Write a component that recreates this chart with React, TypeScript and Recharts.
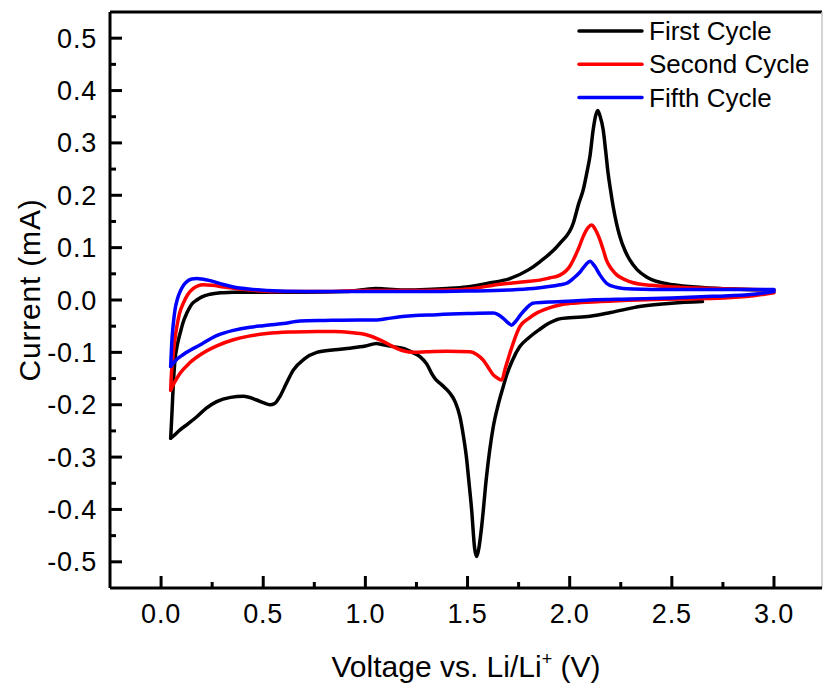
import React from "react";
import { LineChart, Line, XAxis, YAxis, ReferenceLine } from "recharts";

// [voltage (V), current (mA)] pairs, in sweep order
const firstCycle: number[][] = [
  [2.65, -0.003], [2.5, -0.006], [2.35, -0.012], [2.2, -0.024], [2.1, -0.031],
  [2.0, -0.034], [1.95, -0.036], [1.9, -0.044], [1.85, -0.057], [1.8, -0.072],
  [1.756, -0.089], [1.72, -0.115], [1.69, -0.145], [1.675, -0.165], [1.65, -0.2],
  [1.626, -0.242], [1.593, -0.337], [1.569, -0.433], [1.555, -0.475], [1.545, -0.49],
  [1.535, -0.475], [1.52, -0.4], [1.505, -0.34], [1.496, -0.305], [1.48, -0.26],
  [1.463, -0.223], [1.44, -0.195], [1.414, -0.178], [1.39, -0.168], [1.365, -0.159],
  [1.345, -0.152], [1.324, -0.14], [1.3, -0.122], [1.267, -0.108], [1.23, -0.1],
  [1.19, -0.093], [1.137, -0.089], [1.08, -0.085], [1.055, -0.083], [1.0, -0.088],
  [0.925, -0.092], [0.85, -0.095], [0.762, -0.1], [0.7, -0.113], [0.647, -0.134],
  [0.61, -0.162], [0.582, -0.184], [0.555, -0.198], [0.533, -0.2], [0.5, -0.196],
  [0.468, -0.191], [0.403, -0.184], [0.34, -0.186], [0.272, -0.194], [0.22, -0.207],
  [0.175, -0.223], [0.13, -0.237], [0.093, -0.248], [0.065, -0.258], [0.047, -0.264],
  [0.054, -0.21], [0.06, -0.16], [0.068, -0.115], [0.08, -0.085], [0.093, -0.064],
  [0.11, -0.04], [0.126, -0.025], [0.15, -0.008], [0.175, 0.0], [0.2, 0.006],
  [0.24, 0.011], [0.3, 0.014], [0.354, 0.015], [0.5, 0.015], [0.7, 0.015],
  [0.9, 0.016], [1.0, 0.02], [1.05, 0.022], [1.1, 0.021], [1.2, 0.019],
  [1.3, 0.02], [1.4, 0.022], [1.495, 0.025], [1.6, 0.032], [1.707, 0.041],
  [1.8, 0.058], [1.854, 0.073], [1.952, 0.108], [2.017, 0.146], [2.045, 0.185],
  [2.066, 0.21], [2.085, 0.245], [2.099, 0.274], [2.115, 0.325], [2.127, 0.352],
  [2.137, 0.362], [2.148, 0.352], [2.164, 0.325], [2.176, 0.285], [2.188, 0.242],
  [2.2, 0.21], [2.213, 0.178], [2.23, 0.145], [2.246, 0.121], [2.27, 0.095],
  [2.295, 0.076], [2.33, 0.058], [2.376, 0.044], [2.44, 0.034], [2.506, 0.029],
  [2.65, 0.024], [2.8, 0.021], [3.0, 0.019],
];

const secondCycle: number[][] = [
  [3.0, 0.014], [2.9, 0.008], [2.75, 0.004], [2.55, 0.002], [2.34, 0.0],
  [2.15, -0.003], [2.017, -0.006], [1.952, -0.0095], [1.9, -0.015], [1.854, -0.022],
  [1.838, -0.025], [1.8, -0.035], [1.756, -0.051], [1.73, -0.075], [1.707, -0.102],
  [1.685, -0.13], [1.667, -0.153], [1.65, -0.15], [1.626, -0.143], [1.6, -0.128],
  [1.577, -0.115], [1.545, -0.104], [1.512, -0.099], [1.4, -0.098], [1.3, -0.099],
  [1.24, -0.1], [1.185, -0.097], [1.13, -0.088], [1.071, -0.076], [1.0, -0.066],
  [0.925, -0.062], [0.85, -0.06], [0.762, -0.06], [0.65, -0.061], [0.517, -0.064],
  [0.43, -0.069], [0.354, -0.076], [0.27, -0.088], [0.19, -0.105], [0.14, -0.12],
  [0.093, -0.14], [0.065, -0.158], [0.047, -0.172],
  [0.05, -0.145], [0.057, -0.115], [0.066, -0.08], [0.077, -0.051], [0.09, -0.026],
  [0.109, -0.006], [0.13, 0.01], [0.158, 0.022], [0.18, 0.027], [0.207, 0.029],
  [0.25, 0.028], [0.305, 0.025], [0.435, 0.019], [0.6, 0.016], [0.8, 0.016],
  [1.0, 0.018], [1.2, 0.018], [1.4, 0.019], [1.5, 0.021], [1.66, 0.03],
  [1.78, 0.035], [1.854, 0.038], [1.9, 0.042], [1.95, 0.047], [2.0, 0.064],
  [2.017, 0.076], [2.045, 0.1], [2.066, 0.121], [2.09, 0.138], [2.107, 0.143],
  [2.125, 0.135], [2.148, 0.115], [2.165, 0.095], [2.18, 0.076], [2.205, 0.059],
  [2.23, 0.048], [2.27, 0.039], [2.311, 0.033], [2.4, 0.028], [2.506, 0.025],
  [2.7, 0.022], [2.9, 0.02], [3.0, 0.019],
];

const fifthCycle: number[][] = [
  [3.0, 0.016], [2.9, 0.011], [2.7, 0.007], [2.5, 0.004], [2.3, 0.002],
  [2.1, 0.0], [2.017, -0.002], [1.9, -0.004], [1.82, -0.006], [1.79, -0.015],
  [1.76, -0.028], [1.735, -0.041], [1.716, -0.048], [1.7, -0.044], [1.675, -0.035],
  [1.65, -0.028], [1.626, -0.025], [1.5, -0.026], [1.35, -0.028], [1.17, -0.032],
  [1.1, -0.036], [1.055, -0.038], [0.974, -0.038], [0.8, -0.039], [0.68, -0.04],
  [0.598, -0.045], [0.5, -0.049], [0.435, -0.052], [0.354, -0.058], [0.272, -0.068],
  [0.19, -0.086], [0.109, -0.104], [0.07, -0.116], [0.047, -0.127],
  [0.052, -0.083], [0.06, -0.045], [0.068, -0.019], [0.08, 0.002], [0.093, 0.016],
  [0.11, 0.028], [0.126, 0.035], [0.15, 0.04], [0.175, 0.041], [0.2, 0.04],
  [0.24, 0.037], [0.3, 0.03], [0.354, 0.025], [0.43, 0.021], [0.517, 0.018],
  [0.7, 0.016], [1.0, 0.016], [1.3, 0.016], [1.5, 0.017], [1.7, 0.019],
  [1.82, 0.022], [1.952, 0.029], [1.985, 0.032], [2.02, 0.042], [2.05, 0.053],
  [2.08, 0.068], [2.099, 0.074], [2.12, 0.066], [2.148, 0.048], [2.18, 0.032],
  [2.22, 0.025], [2.262, 0.022], [2.31, 0.021], [2.5, 0.02], [2.8, 0.02],
  [3.0, 0.02],
];

const seriesNames = ["First Cycle", "Second Cycle", "Fifth Cycle"];
const seriesColors = ["#000000", "#ff0000", "#0000ff"];
const seriesData = [firstCycle, secondCycle, fifthCycle];

const xTicks = [0, 0.25, 0.5, 0.75, 1.0, 1.25, 1.5, 1.75, 2.0, 2.25, 2.5, 2.75, 3.0];
const yTicks = [
  -0.5, -0.45, -0.4, -0.35, -0.3, -0.25, -0.2, -0.15, -0.1, -0.05, 0,
  0.05, 0.1, 0.15, 0.2, 0.25, 0.3, 0.35, 0.4, 0.45, 0.5,
];

const X_DOMAIN: [number, number] = [-0.25, 3.235];
const Y_DOMAIN: [number, number] = [-0.55, 0.55];

const W = 823;
const H = 685;
const PLOT_LEFT = 110;
const PLOT_BOTTOM = 588;
const FONT = "'Liberation Sans', Arial, Helvetica, sans-serif";

// split a cycle at its lowest voltage into the cathodic and anodic sweeps,
// so each half can use a smooth curve along x
const splitSweeps = (rows: number[][]) => {
  let turn = 0;
  rows.forEach((r, k) => {
    if (r[0] < rows[turn][0]) turn = k;
  });
  const toPoint = ([v, i]: number[]) => ({ v, i });
  return [
    rows.slice(0, turn + 1).map(toPoint).reverse(),
    rows.slice(turn).map(toPoint),
  ];
};

const isMultiple = (value: number, step: number) =>
  Math.abs(value / step - Math.round(value / step)) < 1e-6;

const XTick = (props: any) => {
  const { x, payload } = props;
  const major = isMultiple(payload.value, 0.5);
  return (
    <g>
      <line
        x1={x}
        x2={x}
        y1={PLOT_BOTTOM}
        y2={PLOT_BOTTOM - (major ? 12 : 6)}
        stroke="#000"
        strokeWidth={3}
      />
      {major && (
        <text
          x={x}
          y={623}
          textAnchor="middle"
          fontSize={27}
          letterSpacing={0.8}
          fontFamily={FONT}
          fill="#000"
        >
          {payload.value.toFixed(1)}
        </text>
      )}
    </g>
  );
};

const YTick = (props: any) => {
  const { y, payload } = props;
  const major = isMultiple(payload.value, 0.1);
  return (
    <g>
      <line
        x1={PLOT_LEFT}
        x2={PLOT_LEFT + (major ? 12 : 6)}
        y1={y}
        y2={y}
        stroke="#000"
        strokeWidth={3}
      />
      {major && (
        <text
          x={97}
          y={y + 9.5}
          textAnchor="end"
          fontSize={27}
          letterSpacing={0.8}
          fontFamily={FONT}
          fill="#000"
        >
          {payload.value.toFixed(1)}
        </text>
      )}
    </g>
  );
};

const XTitle = () => (
  <text x={466} y={677} textAnchor="middle" fontSize={30} fontFamily={FONT} fill="#000">
    Voltage vs. Li/Li
    <tspan fontSize={18} dy={-12}>+</tspan>
    <tspan dy={12}> (V)</tspan>
  </text>
);

const YTitle = () => (
  <text
    x={40}
    y={290}
    transform="rotate(-90, 40, 290)"
    textAnchor="middle"
    fontSize={30}
    letterSpacing={0.8}
    fontFamily={FONT}
    fill="#000"
  >
    Current (mA)
  </text>
);

export default function App() {
  return (
    <div style={{ position: "absolute", left: 0, top: 0, width: W, height: H, background: "#fff" }}>
      <LineChart
        width={W}
        height={H}
        margin={{ top: 12, right: 1, bottom: 0, left: 0 }}
      >
        <XAxis
          type="number"
          dataKey="v"
          domain={X_DOMAIN}
          ticks={xTicks}
          interval={0}
          allowDataOverflow
          height={97}
          axisLine={{ stroke: "#000", strokeWidth: 3 }}
          tickLine={false}
          tick={<XTick />}
          label={{ content: () => <XTitle /> }}
        />
        <YAxis
          type="number"
          dataKey="i"
          domain={Y_DOMAIN}
          ticks={yTicks}
          interval={0}
          allowDataOverflow
          width={110}
          axisLine={{ stroke: "#000", strokeWidth: 3 }}
          tickLine={false}
          tick={<YTick />}
          label={{ content: () => <YTitle /> }}
        />
        <ReferenceLine y={Y_DOMAIN[1]} stroke="#000" strokeWidth={3} />
        <ReferenceLine x={X_DOMAIN[1]} stroke="#c4c4c4" strokeWidth={1.5} />
        {seriesData.flatMap((rows, k) =>
          splitSweeps(rows).map((points, half) => (
            <Line
              key={`${seriesNames[k]}-${half}`}
              name={seriesNames[k]}
              data={points}
              dataKey="i"
              type="monotoneX"
              stroke={seriesColors[k]}
              strokeWidth={3.5}
              strokeLinejoin="round"
              strokeLinecap="round"
              dot={false}
              activeDot={false}
              isAnimationActive={false}
            />
          ))
        )}
      </LineChart>
      <svg
        width={W}
        height={H}
        style={{ position: "absolute", left: 0, top: 0, pointerEvents: "none" }}
      >
        {seriesNames.map((name, k) => (
          <g key={name}>
            <line
              x1={579}
              x2={642}
              y1={31 + k * 33.3}
              y2={31 + k * 33.3}
              stroke={seriesColors[k]}
              strokeWidth={3.5}
              strokeLinecap="round"
            />
            <text
              x={649}
              y={40 + k * 33.3}
              fontSize={26}
              fontFamily={FONT}
              fill="#000"
            >
              {name}
            </text>
          </g>
        ))}
      </svg>
    </div>
  );
}
